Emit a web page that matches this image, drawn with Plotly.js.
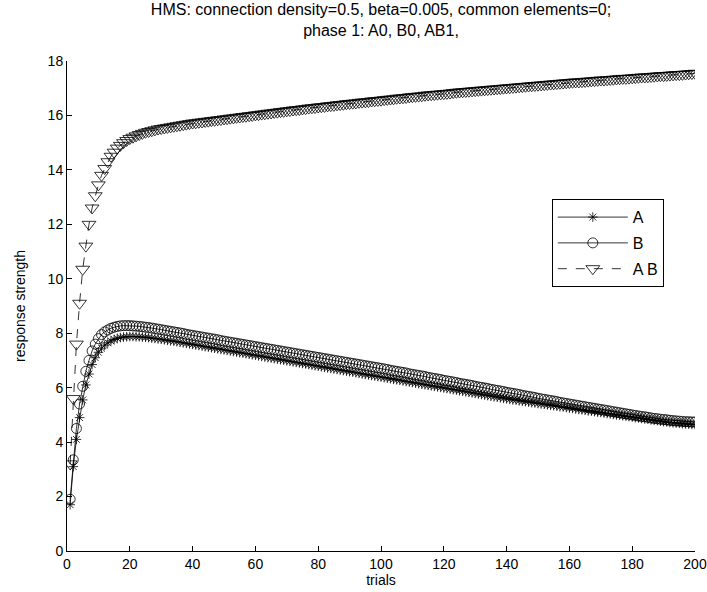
<!DOCTYPE html>
<html><head><meta charset="utf-8">
<script src="https://cdn.plot.ly/plotly-3.0.1.min.js"></script>
<style>html,body{margin:0;padding:0;background:#fff}#plot{width:707px;height:592px}</style>
</head><body><div id="plot"></div>
<script>
const seriesNames = ["A", "B", "A B"];
const titleLines = ["HMS: connection density=0.5, beta=0.005, common elements=0;", "phase 1: A0, B0, AB1,"];
const xLabel = "trials";
const yLabel = "response strength";

const seriesA = [
1.7,3.1,4.1,4.9,5.55,6.1,6.5,6.85,7.1,7.3,
7.45,7.56,7.65,7.72,7.77,7.81,7.84,7.86,7.87,7.88,
7.88,7.87,7.87,7.86,7.85,7.84,7.82,7.81,7.79,7.78,
7.76,7.74,7.72,7.71,7.69,7.67,7.65,7.63,7.61,7.59,
7.57,7.55,7.53,7.51,7.49,7.47,7.45,7.43,7.41,7.39,
7.37,7.35,7.33,7.31,7.29,7.27,7.25,7.23,7.21,7.19,
7.17,7.15,7.13,7.11,7.09,7.07,7.05,7.03,7.01,6.99,
6.97,6.95,6.93,6.91,6.89,6.87,6.85,6.83,6.81,6.79,
6.77,6.75,6.73,6.71,6.69,6.67,6.65,6.63,6.61,6.59,
6.57,6.55,6.53,6.51,6.49,6.47,6.45,6.43,6.41,6.39,
6.37,6.35,6.33,6.31,6.29,6.27,6.25,6.23,6.21,6.19,
6.17,6.15,6.13,6.11,6.09,6.07,6.05,6.03,6.01,5.99,
5.97,5.95,5.93,5.91,5.89,5.87,5.85,5.83,5.81,5.79,
5.77,5.75,5.73,5.71,5.69,5.67,5.65,5.63,5.61,5.59,
5.57,5.55,5.54,5.52,5.50,5.49,5.47,5.45,5.44,5.42,
5.40,5.39,5.37,5.35,5.34,5.32,5.30,5.29,5.27,5.25,
5.24,5.22,5.20,5.19,5.17,5.15,5.14,5.12,5.10,5.09,
5.07,5.05,5.04,5.02,5.00,4.99,4.97,4.95,4.94,4.92,
4.90,4.89,4.87,4.85,4.84,4.82,4.80,4.79,4.77,4.75,
4.74,4.72,4.71,4.70,4.69,4.68,4.67,4.66,4.65,4.65];

const seriesB = [
1.9,3.35,4.5,5.4,6.05,6.6,7.0,7.35,7.6,7.8,
7.95,8.05,8.12,8.18,8.22,8.25,8.27,8.28,8.28,8.28,
8.27,8.26,8.25,8.24,8.22,8.21,8.19,8.17,8.15,8.13,
8.11,8.09,8.07,8.05,8.03,8.01,7.99,7.96,7.94,7.92,
7.9,7.88,7.86,7.84,7.82,7.8,7.78,7.76,7.73,7.71,
7.69,7.67,7.65,7.63,7.61,7.59,7.57,7.55,7.53,7.51,
7.49,7.47,7.45,7.43,7.41,7.39,7.37,7.35,7.33,7.31,
7.29,7.27,7.25,7.23,7.21,7.19,7.17,7.15,7.13,7.11,
7.09,7.07,7.05,7.03,7.01,6.99,6.97,6.95,6.93,6.91,
6.89,6.87,6.85,6.83,6.81,6.79,6.77,6.75,6.73,6.71,
6.69,6.67,6.64,6.62,6.6,6.58,6.56,6.54,6.51,6.49,
6.47,6.45,6.43,6.41,6.38,6.36,6.34,6.32,6.3,6.27,
6.25,6.23,6.21,6.19,6.16,6.14,6.12,6.1,6.08,6.05,
6.03,6.01,5.99,5.97,5.94,5.92,5.9,5.88,5.86,5.83,
5.81,5.79,5.77,5.75,5.72,5.7,5.68,5.66,5.64,5.61,
5.59,5.57,5.55,5.53,5.51,5.49,5.46,5.44,5.42,5.4,
5.38,5.36,5.34,5.32,5.3,5.28,5.26,5.24,5.22,5.2,
5.18,5.16,5.14,5.12,5.1,5.08,5.06,5.04,5.02,5.0,
4.98,4.96,4.94,4.93,4.91,4.89,4.87,4.86,4.84,4.83,
4.82,4.8,4.79,4.78,4.77,4.76,4.75,4.75,4.74,4.74];

const seriesAB = [
3.2,5.6,7.6,9.1,10.35,11.2,12.0,12.6,13.05,13.45,
13.8,14.05,14.3,14.5,14.65,14.8,14.9,15.0,15.08,15.15,
15.2,15.25,15.3,15.34,15.38,15.41,15.44,15.47,15.5,15.52,
15.54,15.56,15.58,15.6,15.62,15.64,15.66,15.68,15.7,15.72,
15.73,15.75,15.76,15.78,15.79,15.81,15.82,15.84,15.85,15.87,
15.88,15.9,15.91,15.93,15.94,15.96,15.97,15.99,16.0,16.02,
16.03,16.05,16.06,16.08,16.09,16.11,16.12,16.14,16.15,16.17,
16.18,16.2,16.21,16.22,16.24,16.25,16.27,16.28,16.29,16.31,
16.32,16.33,16.35,16.36,16.37,16.39,16.4,16.41,16.43,16.44,
16.45,16.46,16.48,16.49,16.5,16.51,16.53,16.54,16.55,16.56,
16.58,16.59,16.6,16.61,16.63,16.64,16.65,16.66,16.68,16.69,
16.7,16.71,16.72,16.74,16.75,16.76,16.77,16.78,16.79,16.8,
16.81,16.82,16.84,16.85,16.86,16.87,16.88,16.89,16.9,16.91,
16.92,16.93,16.94,16.95,16.96,16.97,16.98,16.99,17.0,17.01,
17.02,17.03,17.04,17.05,17.06,17.07,17.08,17.09,17.1,17.11,
17.12,17.13,17.14,17.15,17.16,17.17,17.18,17.19,17.2,17.21,
17.22,17.23,17.23,17.24,17.25,17.26,17.27,17.28,17.29,17.3,
17.3,17.31,17.32,17.33,17.34,17.35,17.36,17.36,17.37,17.38,
17.39,17.4,17.41,17.41,17.42,17.43,17.44,17.45,17.46,17.46,
17.47,17.48,17.49,17.5,17.5,17.51,17.52,17.53,17.54,17.55];

const trials = seriesA.map((_, i) => i + 1);
const FONT = "Arial, 'Liberation Sans', sans-serif";

const mk = (name, y, symbol, size, dash) => ({
  type: "scatter", mode: "lines+markers", name: name, legendgroup: name, x: trials, y: y,
  line: {color: "#000", width: 0.8, dash: dash},
  marker: {symbol: symbol, size: size, color: "#000", line: {color: "#000", width: 0.8}}
});

const data = [
  mk(seriesNames[0], seriesA, "asterisk-open", 8, "solid"),
  mk(seriesNames[1], seriesB, "circle-open", 10, "solid"),
  mk(seriesNames[2], seriesAB, "triangle-down-open", 12, "dash")
];

const layout = {
  width: 707, height: 592,
  margin: {l: 67, r: 12, t: 61, b: 41, pad: 0},
  paper_bgcolor: "#fff", plot_bgcolor: "#fff",
  font: {family: FONT, size: 14, color: "#000"},
  showlegend: true,
  title: {text: titleLines.join("<br>"), font: {family: FONT, size: 16, color: "#000"},
          x: 0.5, xref: "paper", xanchor: "center", y: 0.975, yref: "container", yanchor: "top"},
  xaxis: {range: [0, 200], tickvals: [0,20,40,60,80,100,120,140,160,180,200],
          ticks: "inside", ticklen: 5, tickcolor: "#000", showline: true, linecolor: "#000", linewidth: 1,
          showgrid: false, zeroline: false, tickfont: {size: 14},
          title: {text: xLabel, font: {size: 14}, standoff: 3}},
  yaxis: {range: [0, 18], tickvals: [0,2,4,6,8,10,12,14,16,18],
          ticks: "inside", ticklen: 5, tickcolor: "#000", showline: true, linecolor: "#000", linewidth: 1,
          showgrid: false, zeroline: false, tickfont: {size: 14},
          title: {text: yLabel, font: {size: 14}, standoff: 18}},
  legend: {x: 0.772, y: 0.718, xanchor: "left", yanchor: "top", bgcolor: "#fff",
           bordercolor: "#000", borderwidth: 1, font: {size: 16}, tracegroupgap: 2,
           itemwidth: 70}
};

Plotly.newPlot("plot", data, layout, {displayModeBar: false, staticPlot: true});
</script></body></html>
